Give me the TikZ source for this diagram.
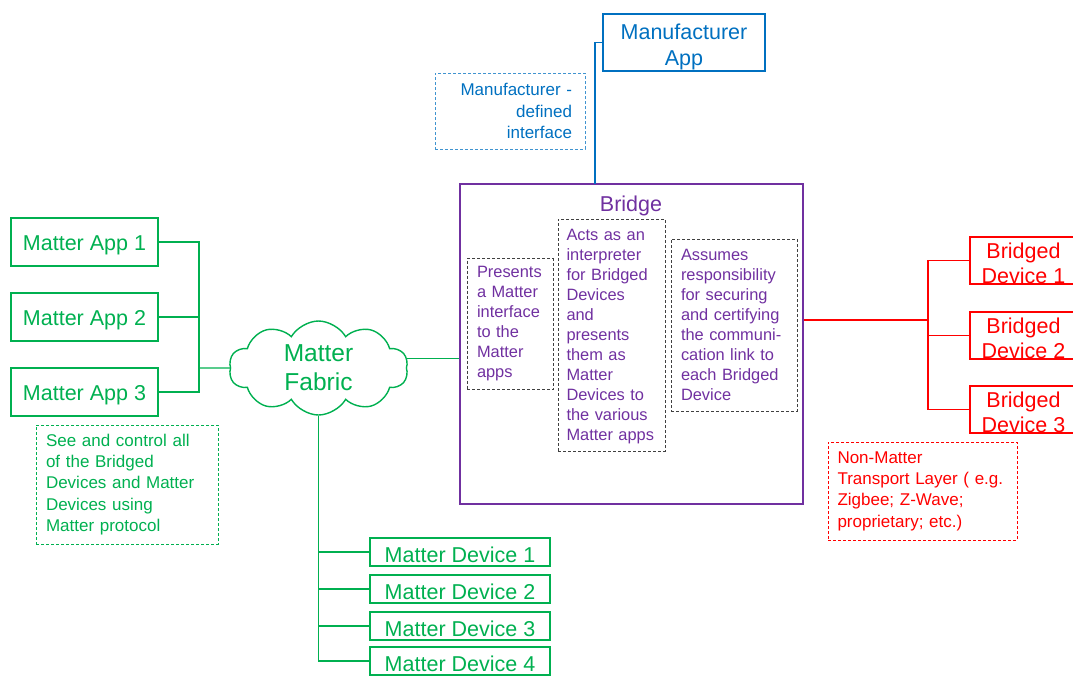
\documentclass[tikz,border=0pt]{standalone}
\usepackage{fontspec}
\setmainfont{Liberation Sans}
\usetikzlibrary{shapes.symbols}
\definecolor{mgreen}{HTML}{00B050}
\definecolor{mred}{HTML}{FF0000}
\definecolor{mpurple}{HTML}{7030A0}
\definecolor{mblue}{HTML}{0070C0}
\definecolor{dgray}{HTML}{404040}
\newcommand{\topstrut}[1]{\rule{0pt}{#1}}

\begin{document}
\begin{tikzpicture}[x=1pt,y=-1pt,
  appbox/.style={draw=mgreen,line width=1.8pt,text=mgreen,inner sep=0pt,font=\fontsize{21.5}{25}\selectfont,execute at begin node={\topstrut{21.5pt}}},
  bdbox/.style={draw=mred,line width=1.8pt,text=mred,inner sep=0pt,align=center,minimum width=107pt,minimum height=47pt,font=\fontsize{21.5}{25}\selectfont},
  dashnote/.style={line width=0.8pt,dash pattern=on 3pt off 2pt,inner ysep=0pt,inner xsep=10pt,align=left,font=\fontsize{17}{21.3}\selectfont},
  rolebox/.style={draw=dgray,line width=1pt,dash pattern=on 3pt off 2pt,text=mpurple,inner ysep=0pt,inner xsep=10pt,align=left,font=\fontsize{16.4}{20}\selectfont},
  gline/.style={mgreen,line width=1.4pt},
  rline/.style={mred,line width=1.4pt},
  bline/.style={mblue,line width=1.4pt}]
		\useasboundingbox (0,0) rectangle (1073,675);
		
		% manufacturer app and its interface
		\node[draw=mblue,line width=1.8pt,text=mblue,inner sep=0pt,align=center,minimum width=162pt,minimum height=57pt,font=\fontsize{21.5}{26}\selectfont] (mapp) at (684,42.5) {\topstrut{23.5pt}Manufacturer\\App};
		\node[dashnote,draw=mblue!75,text=mblue,align=right,inner xsep=13pt,text width=124pt,minimum width=150pt,minimum height=76pt] (mfnote) at (510,111) {Manufacturer -\\defined\\interface};
		
		% bridge with its three roles
		\node[draw=mpurple,line width=1.8pt,minimum width=343pt,minimum height=320pt] (bridge) at (631.5,344) {};
		\node[text=mpurple,font=\fontsize{21.5}{25}\selectfont] (btitle) at (631,206) {Bridge};
		\node[rolebox,text width=66pt,minimum width=86pt,minimum height=131pt] (role1) at (510,324) {Presents\\a Matter\\interface\\to the\\Matter\\apps};
		\node[rolebox,inner xsep=8.5pt,text width=90pt,minimum width=107pt,minimum height=232pt] (role2) at (611.5,335) {\topstrut{15pt}Acts as an\\interpreter\\for Bridged\\Devices\\and\\presents\\them as\\Matter\\Devices to\\the various\\Matter apps};
		\node[rolebox,text width=106pt,minimum width=126pt,minimum height=172pt] (role3) at (734,325) {Assumes\\responsibility\\for securing\\and certifying\\the communi-\\cation link to\\each Bridged\\Device};
		
		% matter apps
		\node[appbox,minimum width=147pt,minimum height=48pt] (app1) at (84.5,242) {Matter App 1};
		\node[appbox,minimum width=147pt,minimum height=48pt] (app2) at (84.5,317) {Matter App 2};
		\node[appbox,minimum width=147pt,minimum height=48pt] (app3) at (84.5,392) {Matter App 3};
		\node[dashnote,draw=mgreen,text=mgreen,text width=162pt,minimum width=182pt,minimum height=119pt] (appnote) at (127,484.5) {See and control all\\of the Bridged\\Devices and Matter\\Devices using\\Matter protocol};
		
		% matter fabric
		\node[cloud,cloud puffs=10,cloud puff arc=120,cloud ignores aspect,draw=mgreen,line width=1.4pt,text=mgreen,align=center,inner sep=0pt,minimum width=179pt,minimum height=94pt,font=\fontsize{24.5}{29}\selectfont] (fabric) at (318.5,368) {Matter\\Fabric};
		
		% matter devices
		\node[appbox,minimum width=180pt,minimum height=28pt] (dev1) at (460,552) {Matter Device 1};
		\node[appbox,minimum width=180pt,minimum height=28pt] (dev2) at (460,589) {Matter Device 2};
		\node[appbox,minimum width=180pt,minimum height=28pt] (dev3) at (460,626) {Matter Device 3};
		\node[appbox,minimum width=180pt,minimum height=28pt] (dev4) at (460,661) {Matter Device 4};
		
		% bridged devices
		\node[bdbox] (bd1) at (1023.5,260.5) {\topstrut{21.5pt}Bridged\\Device 1};
		\node[bdbox] (bd2) at (1023.5,335.5) {\topstrut{21.5pt}Bridged\\Device 2};
		\node[bdbox] (bd3) at (1023.5,409.5) {\topstrut{21.5pt}Bridged\\Device 3};
		\node[dashnote,draw=mred,text=mred,text width=170pt,inner xsep=9.5pt,minimum width=189pt,minimum height=98pt] (bdnote) at (922.5,491) {Non-Matter\\Transport Layer ( e.g.\\Zigbee; Z-Wave;\\proprietary; etc.)};
		
		% connectors
		\coordinate (appbus) at (199,368);
		\coordinate (mfjoin) at (595,184);
		\coordinate (bdbus) at (928,320);
		\draw[gline] (app1.east) -| (appbus) |- (app3.east);
		\draw[gline] (app2.east) -- (app2.east -| appbus);
		\draw[gline] (appbus) -- (fabric.west);
		\draw[gline] (fabric.6) -- (fabric.6 -| bridge.west);
		\draw[gline] (fabric.south) |- (dev4.west);
		\draw[gline] (dev1.west -| fabric.south) -- (dev1.west);
		\draw[gline] (dev2.west -| fabric.south) -- (dev2.west);
		\draw[gline] (dev3.west -| fabric.south) -- (dev3.west);
		\draw[bline] (mapp.west) -| (mfjoin);
		\draw[rline] (bdbus -| bridge.east) -- (bdbus);
		\draw[rline] (bd1.west) -| (bdbus) |- (bd3.west);
		\draw[rline] (bd2.west) -- (bd2.west -| bdbus);
	\end{tikzpicture}
\end{document}
